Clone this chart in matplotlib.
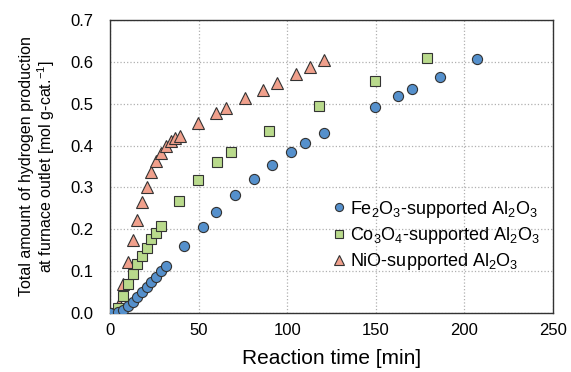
from matplotlib import pyplot as plt
import numpy as np

plt.rcParams['font.family'] = 'Liberation Sans'
plt.rcParams['mathtext.fontset'] = 'custom'
plt.rcParams['mathtext.rm'] = 'Liberation Sans'
plt.rcParams['mathtext.it'] = 'Liberation Sans'

# Fe2O3-supported Al2O3
t_fe = [0, 4.5, 7.3, 10.1, 12.8, 15.4, 18.0, 20.7, 23.3, 26.1, 28.8, 31.4,
        41.7, 52.3, 60.0, 70.7, 81.0, 91.5, 102.2, 110.1, 120.6,
        149.6, 162.6, 170.5, 186.2, 207.4]
h_fe = [0, 0.003, 0.008, 0.016, 0.026, 0.037, 0.049, 0.062, 0.073, 0.086, 0.100, 0.112,
        0.160, 0.205, 0.240, 0.281, 0.320, 0.354, 0.385, 0.405, 0.430,
        0.493, 0.519, 0.535, 0.565, 0.606]

# Co3O4-supported Al2O3
t_co = [0, 4.5, 7.3, 10.1, 12.8, 15.4, 18.0, 20.7, 23.3, 26.1, 28.6,
        39.1, 49.8, 60.1, 68.4, 89.5, 118.2, 149.8, 178.9]
h_co = [0, 0.012, 0.040, 0.070, 0.094, 0.116, 0.137, 0.156, 0.176, 0.192, 0.208,
        0.268, 0.318, 0.360, 0.385, 0.436, 0.494, 0.555, 0.609]

# NiO-supported Al2O3
t_ni = [0, 2.5, 4.9, 7.5, 10.1, 12.8, 15.4, 18.0, 20.7, 23.3, 26.1, 28.8, 31.6,
        34.4, 36.8, 39.3, 49.4, 60.0, 65.4, 75.9, 86.3, 94.4, 104.7, 113.0, 121.0]
h_ni = [0, 0.005, 0.022, 0.070, 0.122, 0.174, 0.222, 0.265, 0.302, 0.336, 0.362, 0.382, 0.398,
        0.412, 0.417, 0.422, 0.453, 0.477, 0.490, 0.513, 0.534, 0.549, 0.571, 0.587, 0.605]

fig = plt.figure(figsize=(5.71, 3.72), dpi=100)
ax = fig.add_axes([0.193, 0.159, 0.775, 0.787])

ax.plot(t_ni, h_ni, '^', ms=8.5, mfc='#F0A08C', mec='#333333', mew=0.8, zorder=3,
        label='NiO-supported Al$_2$O$_3$')
ax.plot(t_co, h_co, 's', ms=6.8, mfc='#B9DA8C', mec='#333333', mew=0.8, zorder=3,
        label='Co$_3$O$_4$-supported Al$_2$O$_3$')
ax.plot(t_fe, h_fe, 'o', ms=7.3, mfc='#5590CC', mec='#333333', mew=0.8, zorder=4,
        label='Fe$_2$O$_3$-supported Al$_2$O$_3$')

ax.set_xlim(0, 250)
ax.set_ylim(0, 0.7)
ax.set_xticks(np.arange(0, 251, 50))
ax.set_yticks(np.arange(0, 0.71, 0.1))
ax.yaxis.set_major_formatter(plt.FormatStrFormatter('%.1f'))
ax.grid(True, color='#b0b0b0', linestyle=':', linewidth=0.9)
ax.set_axisbelow(True)
ax.tick_params(length=0, labelsize=12)
ax.tick_params(axis='y', pad=12)
ax.tick_params(axis='x', pad=7)
for s in ax.spines.values():
    s.set_color('#333333')
    s.set_linewidth(1.0)

ax.set_xlabel('Reaction time [min]', fontsize=15, labelpad=8)
ax.set_ylabel('Total amount of hydrogen production\nat furnace outlet [mol g-cat.$^{-1}$]',
              fontsize=11.5, labelpad=10, linespacing=1.05)

h, l = ax.get_legend_handles_labels()
ax.legend(h[::-1], l[::-1], loc='lower right', bbox_to_anchor=(1.0, 0.095), frameon=False,
          fontsize=13, markerscale=0.8, handletextpad=0.1, handlelength=1.0,
          labelspacing=0.3, borderaxespad=0.3)

fig.savefig('out.png', dpi=100)
